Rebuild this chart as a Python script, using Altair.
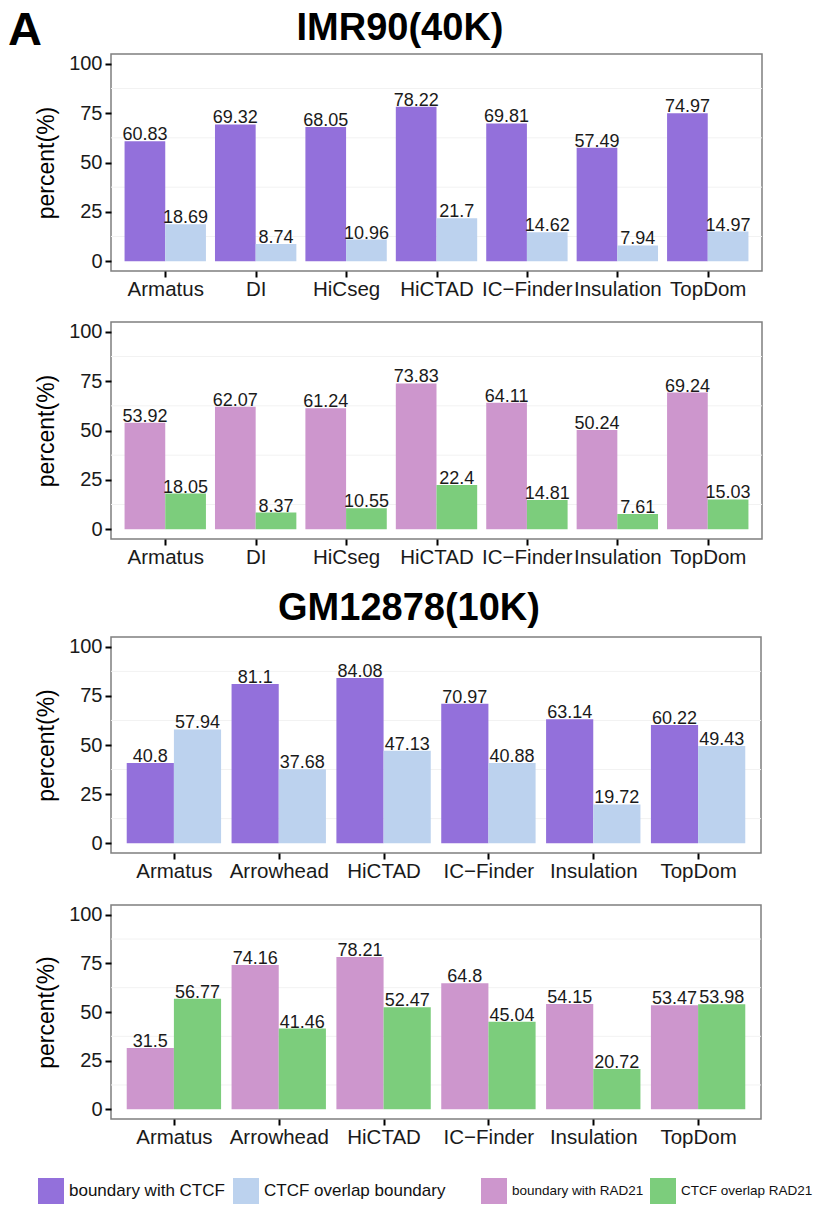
import altair as alt
import pandas as pd

# ---------------- data ----------------
imr_methods = ["Armatus", "DI", "HiCseg", "HiCTAD", "IC−Finder", "Insulation", "TopDom"]
imr_ctcf_boundary = [60.83, 69.32, 68.05, 78.22, 69.81, 57.49, 74.97]
imr_ctcf_overlap = [18.69, 8.74, 10.96, 21.7, 14.62, 7.94, 14.97]
imr_rad21_boundary = [53.92, 62.07, 61.24, 73.83, 64.11, 50.24, 69.24]
imr_rad21_overlap = [18.05, 8.37, 10.55, 22.4, 14.81, 7.61, 15.03]

gm_methods = ["Armatus", "Arrowhead", "HiCTAD", "IC−Finder", "Insulation", "TopDom"]
gm_ctcf_boundary = [40.8, 81.1, 84.08, 70.97, 63.14, 60.22]
gm_ctcf_overlap = [57.94, 37.68, 47.13, 40.88, 19.72, 49.43]
gm_rad21_boundary = [31.5, 74.16, 78.21, 64.8, 54.15, 53.47]
gm_rad21_overlap = [56.77, 41.46, 52.47, 45.04, 20.72, 53.98]

ctcf_series = ["boundary with CTCF", "CTCF overlap boundary"]
ctcf_colors = ["#9370DB", "#BCD2EE"]
rad21_series = ["boundary with RAD21", "CTCF overlap RAD21"]
rad21_colors = ["#CD96CD", "#7CCD7C"]

y_ticks = [0, 25, 50, 75, 100]
minor_grid = [12.5, 37.5, 62.5, 87.5]

FONT = "Liberation Sans"
DODGE = 0.9  # ggplot dodge width


def make_legend(x, size, pad):
    return alt.Legend(
        title=None, orient="none", legendX=x, legendY=273,
        direction="horizontal", columns=2, symbolType="square", symbolSize=676,
        symbolStrokeWidth=0, symbolOpacity=1, labelColor="#111", labelFont=FONT,
        labelFontSize=size, labelOffset=5, columnPadding=pad, labelLimit=400,
    )


y_axis = alt.Axis(title="percent(%)", values=y_ticks, grid=False,
                  labelPadding=3, titlePadding=10, labelFontSize=20)


def panel(methods, a, b, names, colors, width, height, heading=None, heading_x=0,
          heading_y=-14, show_a=False, with_legend=False):
    n = len(methods)
    rows = []
    for k, (vals, s) in enumerate([(a, names[0]), (b, names[1])]):
        for i, (m, v) in enumerate(zip(methods, vals)):
            pos = i + 1
            x0 = pos - DODGE / 2 + k * DODGE / 2
            rows.append({"method": m, "series": s, "value": v, "label": str(v),
                         "x0": x0, "x1": x0 + DODGE / 2, "xc": x0 + DODGE / 4})
    df = pd.DataFrame(rows)
    label_js = "[" + ",".join("'" + m + "'" for m in methods) + "][datum.value - 1]"
    xscale = alt.Scale(domain=[0.4, n + 0.6], nice=False, zero=False)
    x_axis = alt.Axis(title=None, values=list(range(1, n + 1)), labelExpr=label_js,
                      labelPadding=2, labelFontSize=20.5, grid=False,
                      labelOverlap=False, labelBound=False, labelFlush=False)
    yscale = alt.Scale(domain=[-5, 105], nice=False, zero=False)
    color = alt.Color("series:N", scale=alt.Scale(domain=names, range=colors),
                      legend=make_legend(370, 13.5, 6) if with_legend else None)
    base = alt.Chart(df)
    grid = alt.Chart(pd.DataFrame({"g": minor_grid})).mark_rule(
        color="#f2f2f2", strokeWidth=1).encode(y=alt.Y("g:Q", scale=yscale, axis=y_axis))
    bars = base.mark_bar().encode(
        x=alt.X("x0:Q", scale=xscale, axis=x_axis), x2="x1:Q",
        y=alt.Y("value:Q", scale=yscale, axis=y_axis), y2=alt.datum(0), color=color)
    texts = base.mark_text(baseline="alphabetic", dy=-1, fontSize=18, font=FONT,
                           color="#1a1a1a").encode(
        x=alt.X("xc:Q", scale=xscale, axis=x_axis),
        y=alt.Y("value:Q", scale=yscale, axis=y_axis), text="label:N")
    layers = [grid, bars, texts]
    if heading:
        h = alt.Chart(pd.DataFrame({"t": [heading]})).mark_text(
            align="center", baseline="alphabetic", fontSize=38, fontWeight="bold",
            font=FONT, color="black").encode(x=alt.value(heading_x), y=alt.value(heading_y), text="t:N")
        layers.append(h)
    if show_a:
        a_txt = alt.Chart(pd.DataFrame({"t": ["A"]})).mark_text(
            align="left", baseline="alphabetic", fontSize=47, fontWeight="bold",
            font=FONT, color="black").encode(x=alt.value(-103), y=alt.value(-9), text="t:N")
        layers.append(a_txt)
    if with_legend:
        # second legend (CTCF series) through the fill channel of an invisible layer
        key = alt.Chart(pd.DataFrame({"series": ctcf_series})).mark_square(
            opacity=0, size=0).encode(
            x=alt.value(0), y=alt.value(0),
            fill=alt.Fill("series:N", scale=alt.Scale(domain=ctcf_series, range=ctcf_colors),
                          legend=make_legend(-73, 17, 8)))
        layers.append(key)
    return alt.layer(*layers).properties(width=width, height=height)


p1 = panel(imr_methods, imr_ctcf_boundary, imr_ctcf_overlap, ctcf_series, ctcf_colors,
           651, 217, heading="IMR90(40K)", heading_x=289, show_a=True)
p2 = panel(imr_methods, imr_rad21_boundary, imr_rad21_overlap, rad21_series, rad21_colors,
           651, 217)
p3 = panel(gm_methods, gm_ctcf_boundary, gm_ctcf_overlap, ctcf_series, ctcf_colors,
           650, 216, heading="GM12878(10K)", heading_x=298, heading_y=-17)
p4 = panel(gm_methods, gm_rad21_boundary, gm_rad21_overlap, rad21_series, rad21_colors,
           650, 214, with_legend=True)

chart = alt.vconcat(p1, p2, p3, p4, spacing=20).resolve_scale(
    color="independent", fill="independent").properties(
    padding={"left": 7, "top": 6, "right": 2, "bottom": 0},
    background="white",
).configure(font=FONT).configure_view(
    stroke="#7f7f7f", strokeWidth=1.5
).configure_axis(
    domain=False, tickColor="black", tickWidth=2, tickSize=6,
    labelColor="#1a1a1a", labelFont=FONT, labelFontSize=21,
    titleFont=FONT, titleFontSize=23, titleFontWeight="normal", titleColor="black",
)

chart.save("out.html", embed_options={"renderer": "svg", "actions": False})
